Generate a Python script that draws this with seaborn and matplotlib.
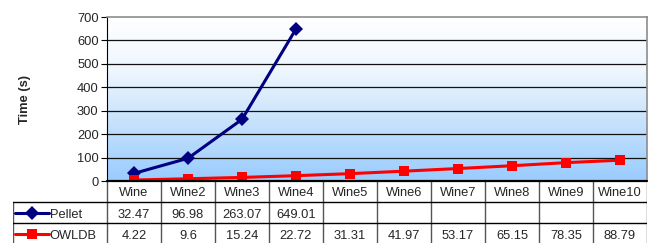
import numpy as np
import pandas as pd
import matplotlib
matplotlib.use("Agg")
import matplotlib.pyplot as plt
import seaborn as sns
from matplotlib.colors import LinearSegmentedColormap

# data
categories = ['Wine', 'Wine2', 'Wine3', 'Wine4', 'Wine5',
              'Wine6', 'Wine7', 'Wine8', 'Wine9', 'Wine10']
pellet = [32.47, 96.98, 263.07, 649.01, np.nan, np.nan, np.nan, np.nan, np.nan, np.nan]
owldb = [4.22, 9.6, 15.24, 22.72, 31.31, 41.97, 53.17, 65.15, 78.35, 88.79]
series_names = ['Pellet', 'OWLDB']
y_ticks = [0, 100, 200, 300, 400, 500, 600, 700]

colors = {'Pellet': '#000080', 'OWLDB': '#ff0000'}
markers = {'Pellet': 'D', 'OWLDB': 's'}

sns.set_style("white")
plt.rcParams['font.family'] = ['Liberation Sans', 'DejaVu Sans']
FS = 9.3

df = pd.DataFrame({
    'x': list(range(len(categories))) * 2,
    'value': pellet + owldb,
    'series': ['Pellet'] * len(categories) + ['OWLDB'] * len(categories),
})

W, H = 656, 243
fig = plt.figure(figsize=(W / 100, H / 100), dpi=100)

# main plot area in pixels
pl, pr, pt, pb = 107, 647, 17, 181
ax = fig.add_axes([pl / W, 1 - pb / H, (pr - pl) / W, (pb - pt) / H])

# gradient background
cmap = LinearSegmentedColormap.from_list('bg', ['#ffffff', '#eef6fe', '#c4e0fc', '#99ccff'])
grad = np.linspace(0, 1, 256).reshape(-1, 1)
ax.imshow(grad, extent=(-0.5, len(categories) - 0.5, 0, 700), aspect='auto',
          cmap=cmap, origin='upper', zorder=0)

for t in y_ticks[1:-1]:
    ax.axhline(t, color='#111111', lw=0.9, zorder=1)

sns.lineplot(data=df, x='x', y='value', hue='series', style='series',
             hue_order=series_names, palette=colors, markers=markers,
             dashes=False, markersize=7.5, markeredgewidth=0, linewidth=2.2,
             legend=False, ax=ax, zorder=3)

ax.set_xlim(-0.5, len(categories) - 0.5)
ax.set_ylim(0, 700)
ax.set_yticks(y_ticks)
ax.set_xticks([])
ax.set_xlabel('')
ax.set_ylabel('Time (s)', fontsize=FS, fontweight='bold')
ax.yaxis.set_label_coords((31 - pl) / (pr - pl), 0.5)
ax.tick_params(axis='y', left=True, length=4, width=0.8, labelsize=FS, pad=2, color='#000000')
for side in ['top', 'right']:
    ax.spines[side].set_color('#8c8c8c')
    ax.spines[side].set_linewidth(1.2)
ax.spines['left'].set_color('#000000')
ax.spines['left'].set_linewidth(0.8)
ax.spines['bottom'].set_visible(False)

# data table below
tl = 13
colw = (pr - pl) / len(categories)
x_left = -0.5 - (pl - tl) / colw
row_h = 21
tax = fig.add_axes([tl / W, 0, (pr - tl) / W, (H - pb) / H])
tax.set_xlim(x_left, len(categories) - 0.5)
tax.set_ylim((H - pb) / row_h, 0)
tax.axis('off')

grid_c = '#555555'
nrows = 1 + len(series_names)
for i in range(len(categories) + 1):
    tax.plot([i - 0.5, i - 0.5], [0, nrows + 1], color=grid_c, lw=1.0)
tax.plot([x_left, x_left], [1, nrows + 1], color=grid_c, lw=1.0)
tax.plot([-0.5, len(categories) - 0.5], [0, 0], color='#000000', lw=1.6, clip_on=False)
for r in range(1, nrows + 1):
    tax.plot([x_left, len(categories) - 0.5], [r, r], color='#000000', lw=1.0)

for i, c in enumerate(categories):
    tax.text(i, 0.55, c, ha='center', va='center', fontsize=FS)

for r, (name, vals) in enumerate(zip(series_names, [pellet, owldb]), start=1):
    lx0 = x_left + 2 / colw
    lx1 = x_left + 36 / colw
    tax.plot([lx0, lx1], [r + 0.5, r + 0.5], color=colors[name], lw=2.2)
    tax.plot([(lx0 + lx1) / 2], [r + 0.5], marker=markers[name], color=colors[name],
             markersize=7.5, markeredgewidth=0)
    tax.text(lx1 + 0.5 / colw, r + 0.6, name, ha='left', va='center', fontsize=FS)
    for i, v in enumerate(vals):
        if not np.isnan(v):
            tax.text(i, r + 0.6, f"{v:g}", ha='center', va='center', fontsize=FS)

fig.savefig('out.png', dpi=100)
